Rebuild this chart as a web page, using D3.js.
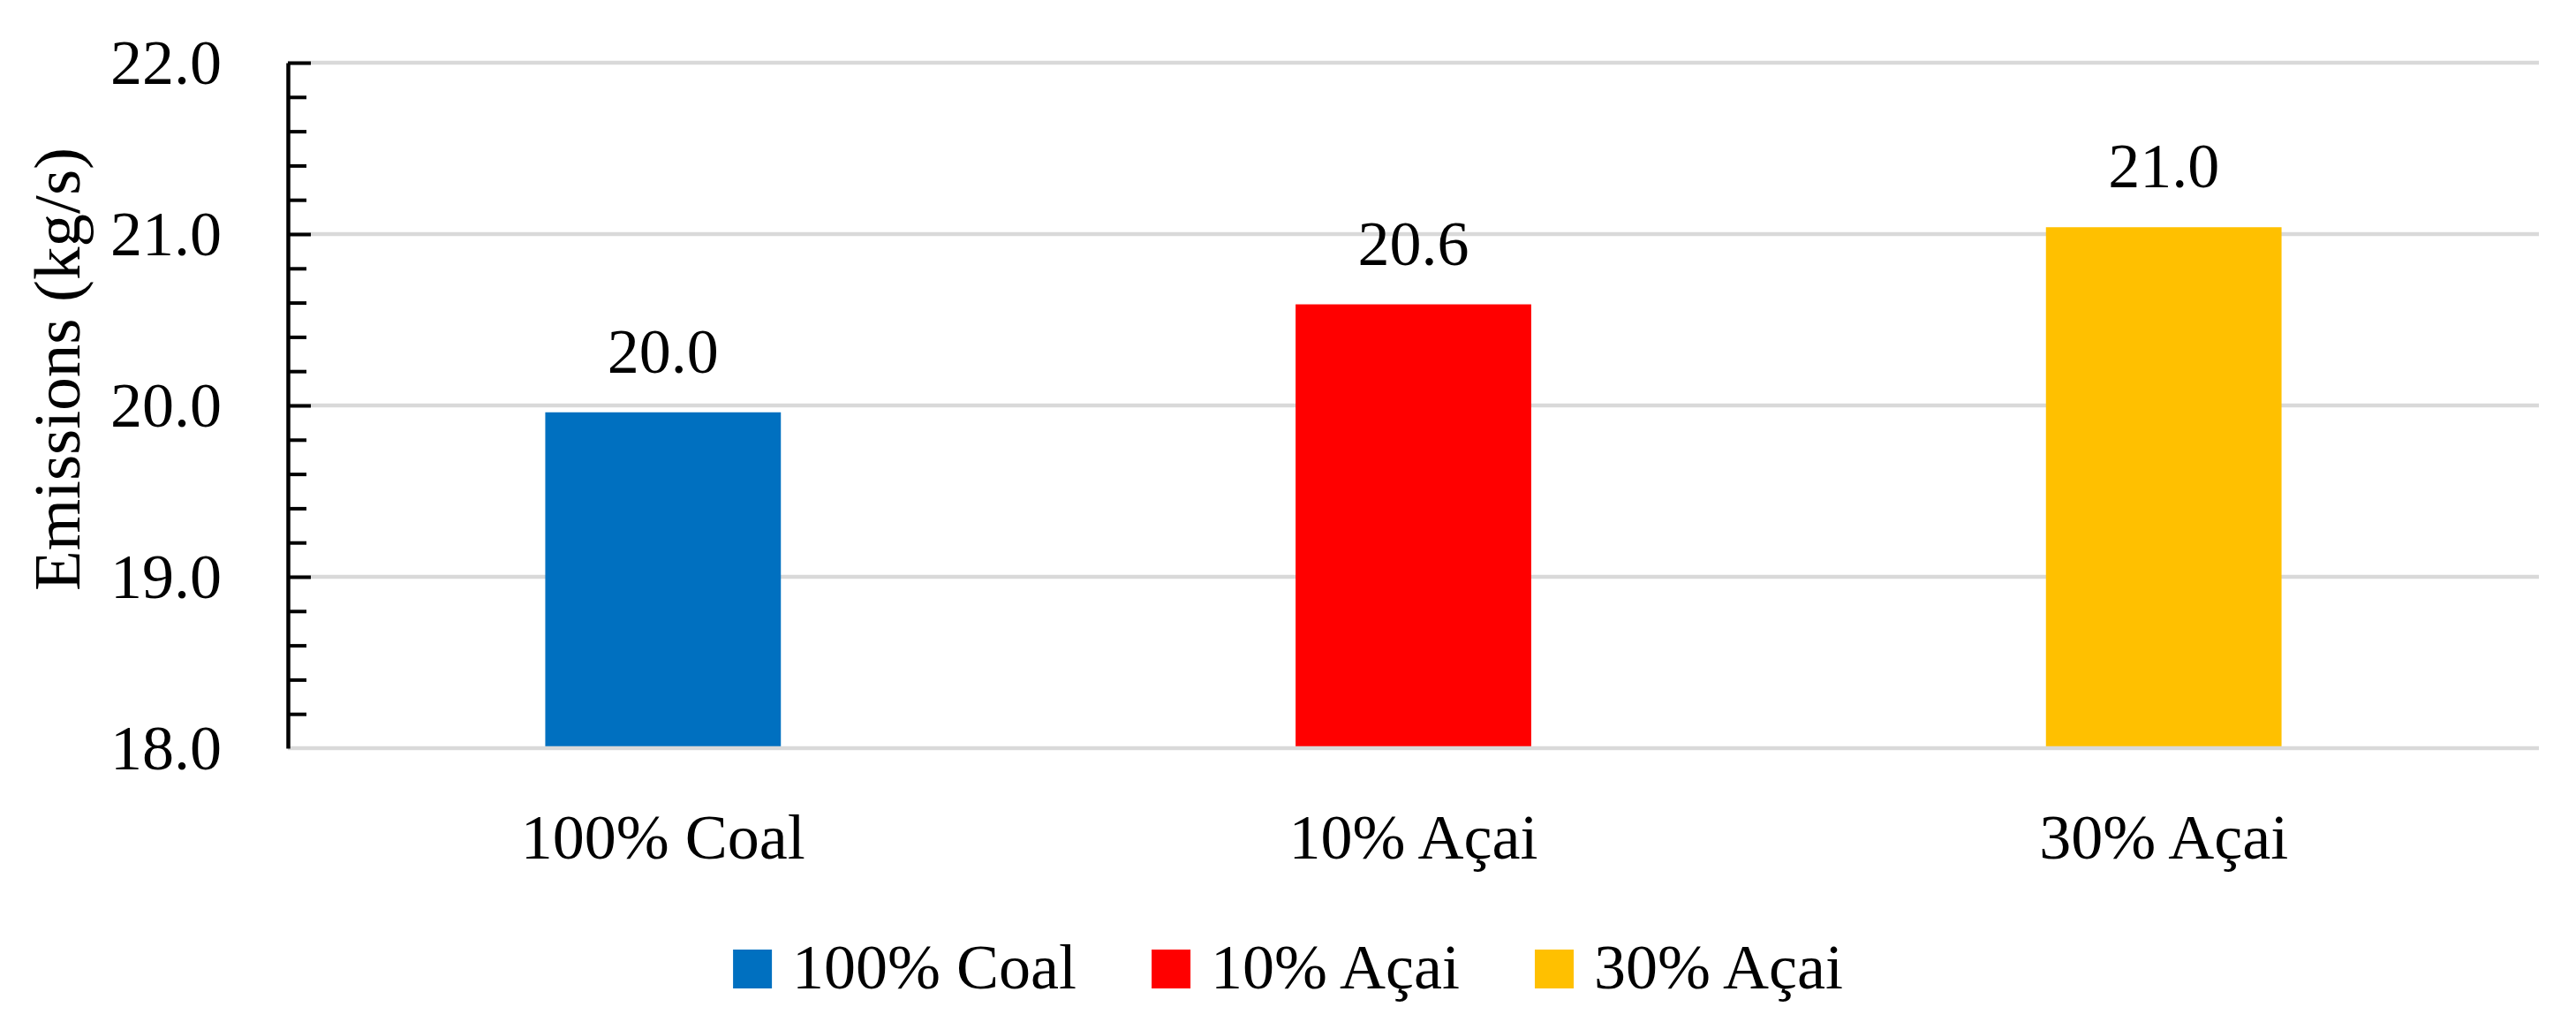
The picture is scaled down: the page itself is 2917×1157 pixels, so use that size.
<!DOCTYPE html>
<html>
<head>
<meta charset="utf-8">
<script src="https://cdn.jsdelivr.net/npm/d3@7"></script>
<style>
  body { margin: 0; background: #fff; }
  text { font-family: 'Liberation Serif', 'Times New Roman', serif; fill: #000; }
</style>
</head>
<body>
<div id="main"></div>
<script>
// chart data //
const categories = ['100% Coal', '10% Açai', '30% Açai'];
const emissions = [19.96, 20.59, 21.04];       // kg/s
const barColors = ['#0070C0', '#FF0000', '#FFC000'];
const yTicks = [18, 19, 20, 21, 22];
const yTitle = 'Emissions (kg/s)';

const w = 2917;
const h = 1157;
const plotL = 326, plotR = 2875, plotT = 71, plotB = 847;
const fontSize = 72;

let svg = d3.select('#main')
    .append('svg')
    .attr('width', w)
    .attr('height', h);

let xScale = d3.scaleBand()
    .domain(categories)
    .range([plotL, plotR])
    .paddingInner(0.686)
    .paddingOuter(0.343);

let yScale = d3.scaleLinear()
    .domain([18, 22])
    .range([plotB, plotT]);

// gridlines behind the bars //
svg.append('g')
    .selectAll('line')
    .data(yTicks.slice(1))
    .enter()
    .append('line')
    .attr('x1', plotL)
    .attr('x2', plotR)
    .attr('y1', d => yScale(d))
    .attr('y2', d => yScale(d))
    .attr('stroke', '#d9d9d9')
    .attr('stroke-width', 4.5);

// bars //
svg.append('g')
    .selectAll('rect')
    .data(emissions)
    .enter()
    .append('rect')
    .attr('x', (d, i) => xScale(categories[i]))
    .attr('y', d => yScale(d))
    .attr('width', xScale.bandwidth())
    .attr('height', d => yScale(18) - yScale(d))
    .attr('fill', (d, i) => barColors[i]);

// value labels //
svg.append('g')
    .selectAll('text')
    .data(emissions)
    .enter()
    .append('text')
    .attr('x', (d, i) => xScale(categories[i]) + xScale.bandwidth() / 2)
    .attr('y', d => yScale(d) - 45)
    .attr('text-anchor', 'middle')
    .style('font-size', fontSize + 'px')
    .text(d => d3.format('.1f')(d));

// category axis: grey baseline, labels below //
let xAxis = d3.axisBottom(xScale).tickSize(0).tickPadding(0);
let xg = svg.append('g')
    .attr('transform', 'translate(0,' + plotB + ')')
    .call(xAxis);
xg.select('.domain')
    .attr('stroke', '#d9d9d9')
    .attr('stroke-width', 4.5)
    .attr('d', 'M' + plotL + ',0H' + plotR);
xg.selectAll('text')
    .attr('y', 125)
    .attr('dy', 0)
    .style('font-size', fontSize + 'px')
    .style('font-family', "'Liberation Serif', 'Times New Roman', serif");

// y axis: minor ticks every 0.2, major every 1.0, ticks pointing in //
let minorAxis = d3.axisLeft(yScale)
    .tickValues(d3.range(18.2, 22, 0.2).filter(v => Math.abs(v - Math.round(v)) > 0.01))
    .tickSize(-21)
    .tickFormat('');
let mg = svg.append('g')
    .attr('transform', 'translate(' + plotL + ',0)')
    .call(minorAxis);
mg.select('.domain').remove();
mg.selectAll('line').attr('stroke', '#000').attr('stroke-width', 4);

let yAxis = d3.axisLeft(yScale)
    .tickValues(yTicks)
    .tickSize(-26)
    .tickSizeOuter(0)
    .tickPadding(75)
    .tickFormat(d3.format('.1f'));
let yg = svg.append('g')
    .attr('transform', 'translate(' + plotL + ',0)')
    .call(yAxis);
yg.select('.domain').attr('stroke', '#000').attr('stroke-width', 4.5);
yg.selectAll('.tick line')
    .attr('stroke', '#000')
    .attr('stroke-width', 4)
    .style('display', d => d === 18 ? 'none' : null);
yg.selectAll('text')
    .style('font-size', fontSize + 'px')
    .style('font-family', "'Liberation Serif', 'Times New Roman', serif");

// y title //
svg.append('text')
    .attr('transform', 'translate(90,418) rotate(-90)')
    .attr('text-anchor', 'middle')
    .style('font-size', '75px')
    .text(yTitle);

// legend, centred on the page //
const legendY = 1119;
const sw = 44;
let legend = svg.append('g');
let items = legend.selectAll('g')
    .data(categories)
    .enter()
    .append('g');
items.append('rect')
    .attr('width', sw)
    .attr('height', sw)
    .attr('y', legendY - sw)
    .attr('fill', (d, i) => barColors[i]);
items.append('text')
    .attr('x', sw + 23)
    .attr('y', legendY)
    .style('font-size', fontSize + 'px')
    .text(d => d);

let xPos = 0;
items.each(function () {
    d3.select(this).attr('transform', 'translate(' + xPos + ',0)');
    xPos += sw + 23 + d3.select(this).select('text').node().getComputedTextLength() + 85;
});
let legendW = xPos - 85;
legend.attr('transform', 'translate(' + (w / 2 - legendW / 2) + ',0)');
</script>
</body>
</html>
